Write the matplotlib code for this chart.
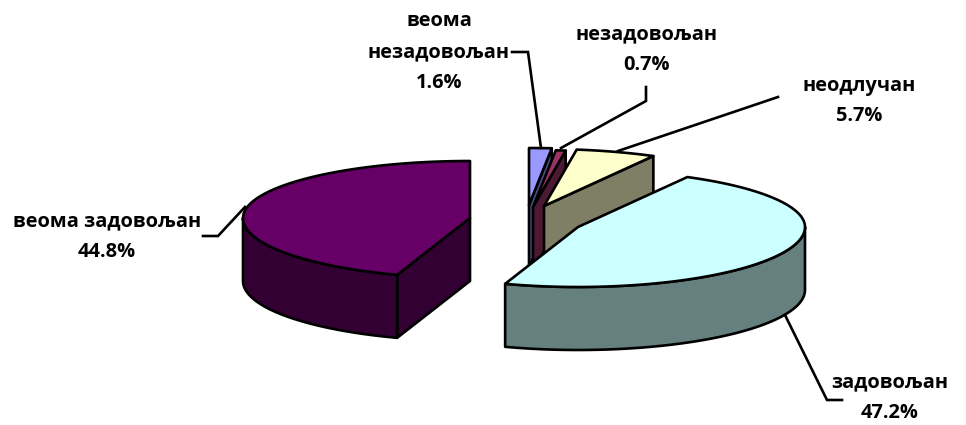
import numpy as np
import matplotlib
matplotlib.use("Agg")
import matplotlib.pyplot as plt
from matplotlib.patches import Polygon

# Data
categories = ["веома\nнезадовољан", "незадовољан", "неодлучан", "задовољан", "веома задовољан"]
values = [1.6, 0.7, 5.7, 47.2, 44.8]

# Style
top_colors = ["#9999FF", "#993366", "#FFFFCC", "#CCFFFF", "#660066"]
wall_colors = ["#4C4C7F", "#4C1933", "#7F7F66", "#667F7F", "#330033"]
apexes = [(529, 205), (533, 207), (544, 206), (578, 227), (470, 218)]
label_pos = [(439, 52), (647, 50), (859, 101), (890, 398), (107, 237)]
leaders = [
    [(512, 52), (528, 52), (541, 148)],
    [(646, 87), (646, 101), (561, 148)],
    [(618, 151), (778, 97)],
    [(785, 315), (827, 400), (842, 400)],
    [(203, 236), (218, 236), (245, 207)],
]
RX, RY_BACK, RY_FRONT, DEPTH = 227, 57, 60, 63
LW = 1.9

fig = plt.figure(figsize=(9.66, 4.25), dpi=100)
ax = fig.add_axes([0, 0, 1, 1])
ax.set_xlim(0, 966)
ax.set_ylim(425, 0)
ax.axis("off")


def rim(apex, theta):
    theta = np.asarray(theta)
    c = np.cos(theta)
    ry = np.where(c >= 0, RY_BACK, RY_FRONT)
    return np.column_stack([apex[0] + RX * np.sin(theta), apex[1] - ry * c])


def add_poly(pts, color, z):
    ax.add_patch(Polygon(pts, closed=True, facecolor=color, edgecolor="black",
                         linewidth=LW, joinstyle="round", zorder=z))


fractions = np.array(values) / np.sum(values)
edges = np.concatenate([[0], np.cumsum(fractions)]) * 2 * np.pi
down = np.array([0, DEPTH])

# back-to-front painting order
order = [4, 0, 1, 2, 3]
for z, i in enumerate(order):
    base = 10 * (z + 1)
    t0, t1 = edges[i], edges[i + 1]
    apex = np.array(apexes[i], dtype=float)
    # radial walls facing the viewer
    if np.sin(t0) < -1e-6:
        p = rim(apex, [t0])[0]
        add_poly([apex, p, p + down, apex + down], wall_colors[i], base)
    if np.sin(t1) > 1e-6:
        p = rim(apex, [t1])[0]
        add_poly([apex, p, p + down, apex + down], wall_colors[i], base)
    # outer curved wall (front half only)
    a0, a1 = max(t0, np.pi / 2), min(t1, 3 * np.pi / 2)
    if a1 > a0:
        arc = rim(apex, np.linspace(a0, a1, 80))
        add_poly(np.vstack([arc, arc[::-1] + down]), wall_colors[i], base + 1)
    # top face
    arc = rim(apex, np.linspace(t0, t1, 120))
    add_poly(np.vstack([apex, arc]), top_colors[i], base + 2)

for pts in leaders:
    xs, ys = zip(*pts)
    ax.plot(xs, ys, color="black", lw=LW, zorder=100, solid_joinstyle="miter")

for cat, val, (x, y) in zip(categories, values, label_pos):
    ax.text(x, y, f"{cat}\n{val}%", ha="center", va="center", fontsize=14.4,
            fontweight="bold", family="Open Sans", color="black",
            linespacing=1.72, zorder=110)

fig.savefig("out.png", dpi=100, facecolor="white")
